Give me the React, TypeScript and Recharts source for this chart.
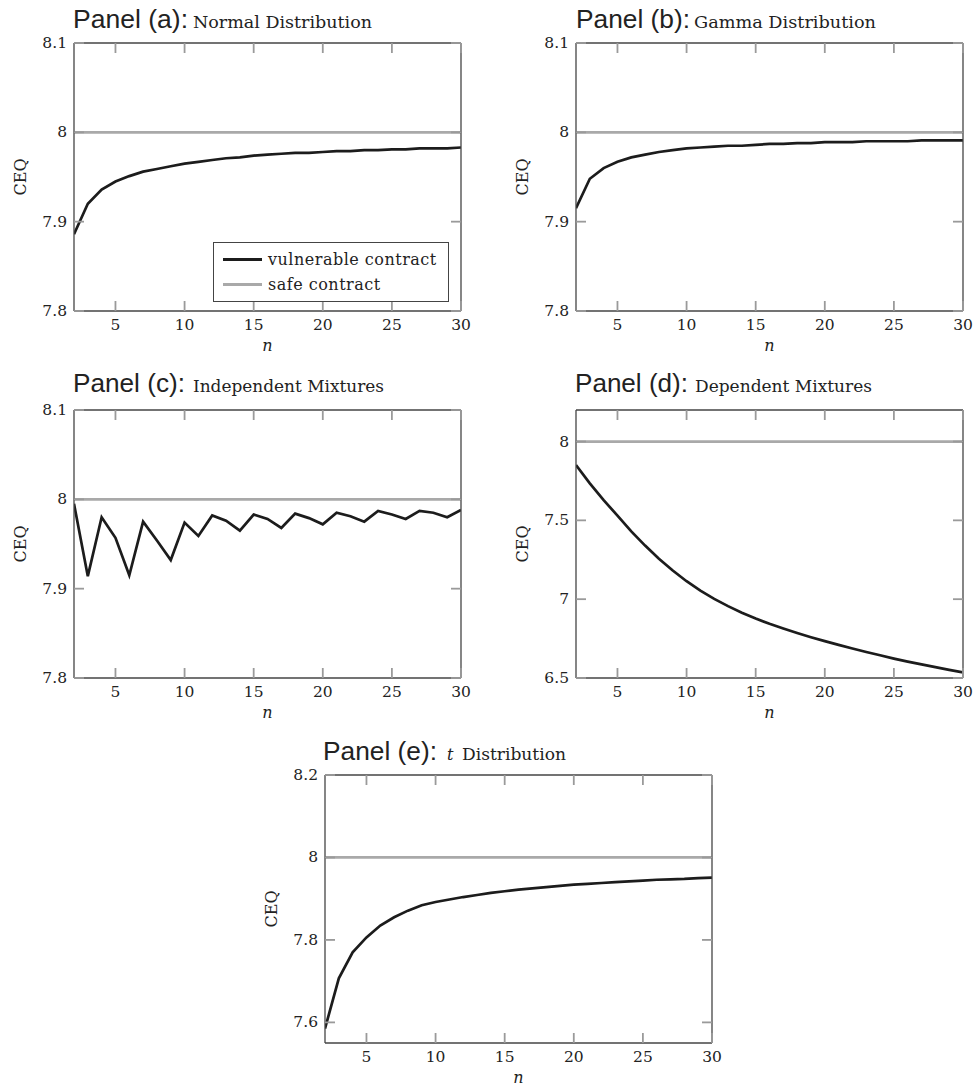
import { Legend, Line, LineChart, XAxis, YAxis } from 'recharts';

// x values (n) shared by all five panels
const nValues = [2, 3, 4, 5, 6, 7, 8, 9, 10, 11, 12, 13, 14, 15, 16, 17, 18, 19, 20, 21, 22, 23, 24, 25, 26, 27, 28, 29, 30];
const xTicks = [5, 10, 15, 20, 25, 30];

// CEQ of the vulnerable contract, one list per panel
const normalCeq = [7.886, 7.92, 7.936, 7.945, 7.951, 7.956, 7.959, 7.962, 7.965, 7.967, 7.969, 7.971, 7.972, 7.974, 7.975, 7.976, 7.977, 7.977, 7.978, 7.979, 7.979, 7.98, 7.98, 7.981, 7.981, 7.982, 7.982, 7.982, 7.983];
const gammaCeq = [7.915, 7.948, 7.96, 7.967, 7.972, 7.975, 7.978, 7.98, 7.982, 7.983, 7.984, 7.985, 7.985, 7.986, 7.987, 7.987, 7.988, 7.988, 7.989, 7.989, 7.989, 7.99, 7.99, 7.99, 7.99, 7.991, 7.991, 7.991, 7.991];
const indepMixCeq = [7.995, 7.914, 7.98, 7.957, 7.915, 7.975, 7.954, 7.932, 7.974, 7.959, 7.982, 7.976, 7.965, 7.983, 7.978, 7.968, 7.984, 7.979, 7.972, 7.985, 7.981, 7.975, 7.987, 7.983, 7.978, 7.987, 7.985, 7.98, 7.988];
const depMixCeq = [7.851, 7.735, 7.628, 7.53, 7.43, 7.34, 7.257, 7.182, 7.114, 7.054, 7.002, 6.956, 6.914, 6.877, 6.844, 6.814, 6.786, 6.759, 6.734, 6.71, 6.687, 6.665, 6.644, 6.623, 6.604, 6.586, 6.569, 6.552, 6.536];
const tDistCeq = [7.585, 7.707, 7.77, 7.806, 7.835, 7.855, 7.871, 7.884, 7.892, 7.898, 7.904, 7.909, 7.914, 7.918, 7.922, 7.925, 7.928, 7.931, 7.934, 7.936, 7.938, 7.94, 7.942, 7.944, 7.946, 7.947, 7.948, 7.95, 7.951];

// safe contract CEQ (flat)
const safeCeq = 8;

const ticksNarrow = [7.8, 7.9, 8, 8.1];
const ticksDep = [6.5, 7, 7.5, 8];
const ticksT = [7.6, 7.8, 8, 8.2];

const SERIF = "'DejaVu Serif', serif";
const SANS = "'Liberation Sans', Arial, sans-serif";
const TEXT = '#222';
const FRAME = '#444';
const TICK = '#9a9a9a';

const CHART_W = 473;
const CHART_H = 354;
const PLOT_W = 387;
const PLOT_H = 268;
const MARK = 10;

// bottom axis tick: inward marks on bottom and top edges + label below
function XTick(props: any) {
	const { x, y, payload } = props;
	return (
		<g>
			<line x1={x} x2={x} y1={y} y2={y - MARK} stroke={TICK} strokeWidth={1.8} />
			<line x1={x} x2={x} y1={y - PLOT_H} y2={y - PLOT_H + MARK} stroke={TICK} strokeWidth={1.8} />
			<text x={x} y={y + 14} textAnchor="middle" dominantBaseline="central" fontFamily={SERIF} fontSize={15.5} fill={TEXT}>
				{payload.value}
			</text>
		</g>
	);
}

// left axis tick: inward marks on left and right edges + label at left
function YTick(props: any) {
	const { x, y, payload } = props;
	return (
		<g>
			<line x1={x} x2={x + MARK} y1={y} y2={y} stroke={TICK} strokeWidth={1.8} />
			<line x1={x + PLOT_W - MARK} x2={x + PLOT_W} y1={y} y2={y} stroke={TICK} strokeWidth={1.8} />
			<text x={x - 7} y={y} textAnchor="end" dominantBaseline="central" fontFamily={SERIF} fontSize={15.5} fill={TEXT}>
				{payload.value}
			</text>
		</g>
	);
}

function yLabel(props: any) {
	const vb = props.viewBox;
	const cx = vb.x + vb.width - 54;
	const cy = vb.y + vb.height / 2;
	return (
		<text
			x={cx}
			y={cy}
			transform={`rotate(-90 ${cx} ${cy})`}
			textAnchor="middle"
			dominantBaseline="central"
			fontFamily={SERIF}
			fontSize={16}
			fill={TEXT}
		>
			CEQ
		</text>
	);
}

function xLabel(props: any) {
	const vb = props.viewBox;
	return (
		<text
			x={vb.x + vb.width / 2}
			y={vb.y + 34}
			textAnchor="middle"
			dominantBaseline="central"
			fontFamily={SERIF}
			fontStyle="italic"
			fontSize={16}
			fill={TEXT}
		>
			n
		</text>
	);
}

const legendOrder = ['vulnerable contract', 'safe contract'];

function renderLegend(props: any) {
	const payload = [...(props.payload || [])].sort(
		(a: any, b: any) => legendOrder.indexOf(a.value) - legendOrder.indexOf(b.value)
	);
	return (
		<div
			style={{
				width: 236,
				height: 60,
				boxSizing: 'border-box',
				border: `1px solid ${FRAME}`,
				background: '#fff',
				paddingTop: 4,
				fontFamily: SERIF,
				fontSize: 16,
				letterSpacing: 0.5,
				color: TEXT,
			}}
		>
			{payload.map((entry: any) => (
				<div key={entry.value} style={{ display: 'flex', alignItems: 'center', height: 25, paddingLeft: 9 }}>
					<div style={{ width: 39, height: 3, background: entry.color, marginRight: 6 }} />
					<span>{entry.value}</span>
				</div>
			))}
		</div>
	);
}

interface PanelProps {
	left: number;
	top: number;
	values: number[];
	domain: [number, number];
	yTicks: number[];
	showLegend?: boolean;
}

function Panel({ left, top, values, domain, yTicks, showLegend }: PanelProps) {
	const data = nValues.map((n, i) => ({ n, vulnerable: values[i], safe: safeCeq }));
	const frame = { stroke: FRAME, strokeWidth: 1.3 };
	return (
		<div style={{ position: 'absolute', left, top }}>
			<LineChart width={CHART_W} height={CHART_H} data={data} margin={{ top: 42, right: 11, bottom: 13, left: 34 }}>
				<XAxis
					xAxisId="bottom"
					dataKey="n"
					type="number"
					domain={[2, 30]}
					ticks={xTicks}
					allowDataOverflow
					height={30}
					tick={<XTick />}
					tickSize={0}
					tickMargin={0}
					tickLine={false}
					axisLine={frame}
					label={xLabel}
				/>
				<XAxis
					xAxisId="top"
					orientation="top"
					dataKey="n"
					type="number"
					domain={[2, 30]}
					ticks={xTicks}
					allowDataOverflow
					height={1}
					tick={false}
					tickLine={false}
					axisLine={frame}
				/>
				<YAxis
					yAxisId="left"
					type="number"
					domain={domain}
					ticks={yTicks}
					allowDataOverflow
					width={40}
					tick={<YTick />}
					tickSize={0}
					tickMargin={0}
					tickLine={false}
					axisLine={frame}
					label={yLabel}
				/>
				<YAxis
					yAxisId="right"
					orientation="right"
					type="number"
					domain={domain}
					ticks={yTicks}
					allowDataOverflow
					width={1}
					tick={false}
					tickLine={false}
					axisLine={frame}
				/>
				<Line
					xAxisId="bottom"
					yAxisId="left"
					dataKey="vulnerable"
					name="vulnerable contract"
					type="linear"
					stroke="#1c1c1c"
					strokeWidth={2.7}
					dot={false}
					activeDot={false}
					isAnimationActive={false}
				/>
				<Line
					xAxisId="top"
					yAxisId="right"
					dataKey="safe"
					name="safe contract"
					type="linear"
					stroke="#a9a9a9"
					strokeWidth={2.7}
					dot={false}
					activeDot={false}
					isAnimationActive={false}
				/>
				{showLegend && (
					<Legend
						layout="horizontal"
						verticalAlign="middle"
						align="center"
						content={renderLegend}
						wrapperStyle={{ left: 213, top: 242, width: 236, height: 60 }}
					/>
				)}
			</LineChart>
		</div>
	);
}

const titles = [
	{ x: 73, y: 28, head: 'Panel (a):', headW: 115, sx: 193, sub: 'Normal Distribution', subW: 179 },
	{ x: 576, y: 28, head: 'Panel (b):', headW: 114, sx: 694, sub: 'Gamma Distribution', subW: 182 },
	{ x: 73, y: 392, head: 'Panel (c):', headW: 112, sx: 193, sub: 'Independent Mixtures', subW: 191 },
	{ x: 575, y: 392, head: 'Panel (d):', headW: 113, sx: 695, sub: 'Dependent Mixtures', subW: 177 },
];

export default function App() {
	return (
		<div style={{ position: 'relative', width: 978, height: 1086, background: '#fff', overflow: 'hidden' }}>
			<style>{'body { margin: 0; }'}</style>
			<Panel left={0} top={0} values={normalCeq} domain={[7.8, 8.1]} yTicks={ticksNarrow} showLegend />
			<Panel left={502} top={0} values={gammaCeq} domain={[7.8, 8.1]} yTicks={ticksNarrow} />
			<Panel left={0} top={367} values={indepMixCeq} domain={[7.8, 8.1]} yTicks={ticksNarrow} />
			<Panel left={502} top={367} values={depMixCeq} domain={[6.5, 8.2]} yTicks={ticksDep} />
			<Panel left={251} top={732} values={tDistCeq} domain={[7.55, 8.2]} yTicks={ticksT} />
			<svg width={978} height={1086} style={{ position: 'absolute', left: 0, top: 0, pointerEvents: 'none' }}>
				{titles.map((t) => (
					<g key={t.head}>
						<text x={t.x} y={t.y} fontFamily={SANS} fontSize={25} fill={TEXT} textLength={t.headW} lengthAdjust="spacingAndGlyphs">
							{t.head}
						</text>
						<text x={t.sx} y={t.y} fontFamily={SERIF} fontSize={16} fill={TEXT} textLength={t.subW} lengthAdjust="spacingAndGlyphs">
							{t.sub}
						</text>
					</g>
				))}
				<text x={323} y={760} fontFamily={SANS} fontSize={25} fill={TEXT} textLength={114} lengthAdjust="spacingAndGlyphs">
					Panel (e):
				</text>
				<text x={447} y={760} fontFamily={SERIF} fontStyle="italic" fontSize={16} fill={TEXT}>
					t
				</text>
				<text x={462} y={760} fontFamily={SERIF} fontSize={16} fill={TEXT} textLength={104} lengthAdjust="spacingAndGlyphs">
					Distribution
				</text>
			</svg>
		</div>
	);
}
